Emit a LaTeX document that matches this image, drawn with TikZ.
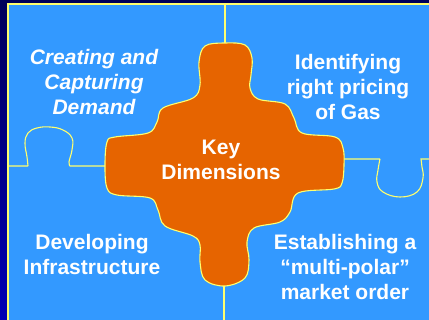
\documentclass[tikz,border=0pt]{standalone}
\usepackage{fontspec}
\setmainfont{Liberation Sans}
\usetikzlibrary{positioning}
\definecolor{pieceblue}{RGB}{51,153,255}
\definecolor{keyorange}{RGB}{230,100,0}
\definecolor{seamyellow}{RGB}{255,255,110}
\definecolor{navytop}{RGB}{0,0,90}
\definecolor{navyside}{RGB}{0,0,180}
\tikzset{
  seam/.style={draw=seamyellow, line width=1.1pt},
  dimtext/.style={text=white, font=\bfseries\fontsize{21}{25}\selectfont, align=center, inner sep=0pt},
}

\begin{document}
\begin{tikzpicture}[x=1pt, y=-1pt]
  \useasboundingbox (0,0) rectangle (429,320);
  \shade[top color=navytop, bottom color=navyside] (0,0) rectangle (429,320);
  \fill[pieceblue] (8,4) rectangle (429,320);
  \draw[seam] (8,320) -- (8,4) -- (429,4);

  % seams between the outer pieces
  \coordinate (topedge) at (225,4);
  \coordinate (bottomedge) at (224,320);
  \draw[seam] (topedge) -- (225,44);
  \draw[seam] (224,286) -- (bottomedge);
  \draw[seam] (8,166) -- (28,166)
    plot[smooth, tension=0.7] coordinates {(28,166) (27,157) (25,143) (28,133) (37,128) (50,127) (63,130) (72,138) (72,150) (69,162) (70,166)}
    -- (106,166);
  \draw[seam] (343,159) -- (380,159)
    plot[smooth, tension=0.7] coordinates {(380,159) (378,170) (377,182) (383,192) (400,197) (417,192) (423,178) (422,167) (421,159)}
    -- (429,159);

  % the key piece
  \filldraw[fill=keyorange, seam] plot[smooth cycle, tension=0.6] coordinates {
    (225,43) (245,45) (252,58) (251,75) (250,88) (258,99) (285,104) (294,118)
    (302,133) (335,137) (343,148) (344,165) (342,183) (334,189) (298,193) (290,212)
    (280,222) (254,228) (247,242) (249,260) (245,278) (225,286) (205,280) (200,262)
    (200,245) (193,236) (165,226) (158,210) (150,198) (117,195) (107,188) (105,165)
    (107,142) (115,137) (148,133) (157,122) (163,108) (193,98) (200,85) (199,62) (205,46)};

  \node[dimtext, font=\bfseries\itshape\fontsize{21}{25}\selectfont] (demand) at (94,82) {Creating and\\Capturing\\Demand};
  \node[dimtext] (pricing) at (348,87) {Identifying\\right pricing\\of Gas};
  \node[dimtext] (key) at (221,160) {Key\\Dimensions};
  \node[dimtext] (infra) at (92,254) {Developing\\Infrastructure};
  \node[dimtext] (order) at (345,267) {Establishing a\\“multi-polar”\\market order};
\end{tikzpicture}
\end{document}
